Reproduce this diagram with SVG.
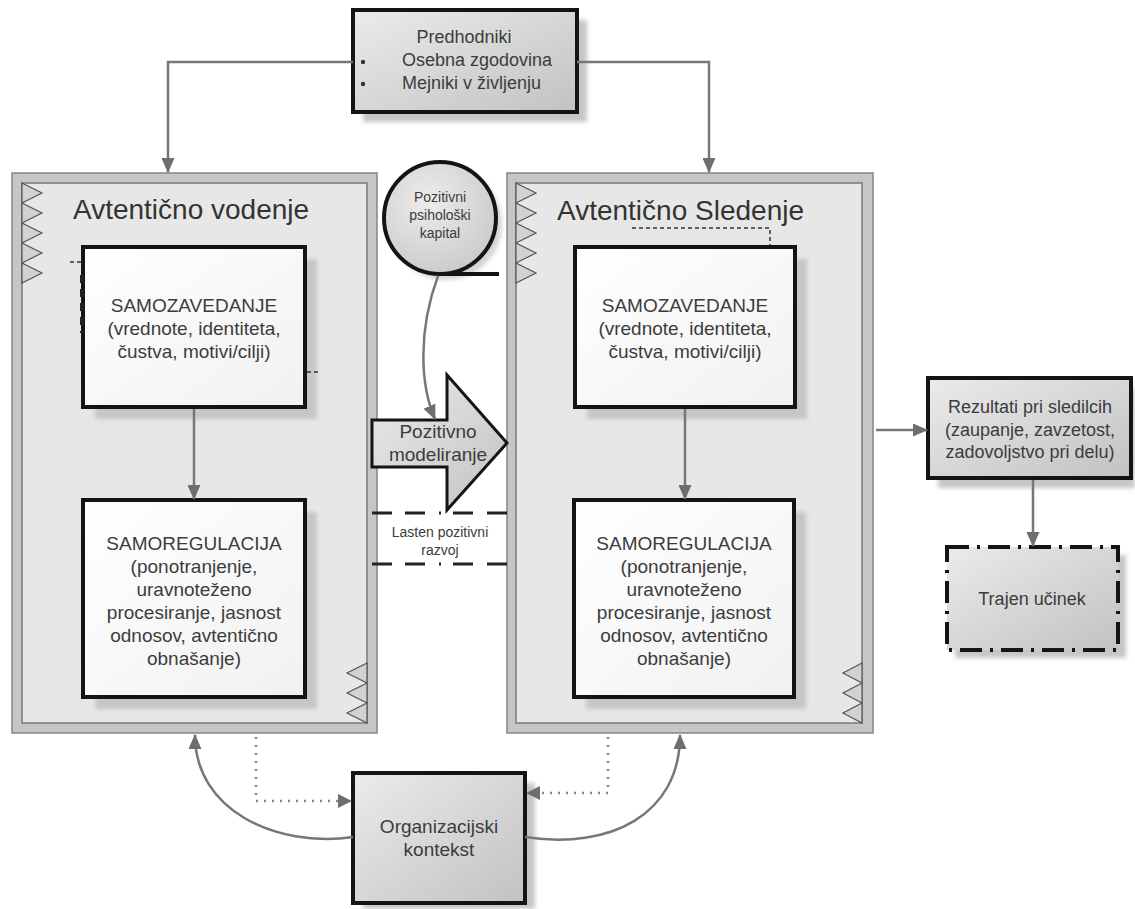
<svg xmlns="http://www.w3.org/2000/svg" width="1135" height="909" viewBox="0 0 1135 909">
  <defs>
    <linearGradient id="gGray" x1="0" y1="0" x2="1" y2="1">
      <stop offset="0" stop-color="#ebebeb"/>
      <stop offset="1" stop-color="#c2c2c2"/>
    </linearGradient>
    <linearGradient id="gWhite" x1="0" y1="0" x2="1" y2="1">
      <stop offset="0" stop-color="#ffffff"/>
      <stop offset="1" stop-color="#f1f1f1"/>
    </linearGradient>
    <radialGradient id="gCircle" cx="0.4" cy="0.35" r="0.7">
      <stop offset="0" stop-color="#ececec"/>
      <stop offset="1" stop-color="#cacaca"/>
    </radialGradient>
    <filter id="soft" x="-10%" y="-10%" width="130%" height="130%">
      <feGaussianBlur stdDeviation="2"/>
    </filter>
    <marker id="ah" viewBox="0 0 15 13" refX="14" refY="6.5" markerWidth="15" markerHeight="13" markerUnits="userSpaceOnUse" orient="auto">
      <path d="M0,0 L15,6.5 L0,13 z" fill="#6e6e6e"/>
    </marker>
  </defs>
  <style>
    text { font-family: "Liberation Sans", Arial, sans-serif; fill: #3c3c3c; }
    .c { text-anchor: middle; }
    .t19 { font-size: 19px; }
    .t18 { font-size: 18px; }
    .t14 { font-size: 14px; }
    .t13 { font-size: 14px; }
    .title { font-size: 28px; fill: #333; }
    .outer { fill: #c6c6c6; stroke: #858585; stroke-width: 1.5; }
    .inner { fill: #e7e7e7; stroke: #7a7a7a; stroke-width: 1.5; }
    .shadow { fill: #c6c6c6; filter: url(#soft); }
    .wbox { fill: url(#gWhite); stroke: #141414; stroke-width: 4; }
    .gbox { fill: url(#gGray); stroke: #141414; stroke-width: 4; }
    .zig { fill: #d2d2d2; stroke: #555; stroke-width: 1.2; }
    .conn { fill: none; stroke: #777; stroke-width: 2.5; }
    .dot { fill: none; stroke: #888; stroke-width: 2.5; stroke-dasharray: 2 6; }
    .dd { fill: none; stroke: #222; stroke-width: 3; stroke-dasharray: 20 13 20 14 2 12 20 14 20; }
    .art { fill: none; stroke: #333; stroke-width: 1.5; stroke-dasharray: 4 3; }
  </style>

  <!-- container: Avtentično vodenje -->
  <g id="leader">
    <rect class="outer" x="12" y="173" width="365" height="560"/>
    <rect class="inner" x="22" y="183" width="345" height="540"/>
    <polygon class="zig" points="22,183 42,193 22,203 42,213 22,223 42,233 22,243 42,253 22,263 42,273 22,283"/>
    <polygon class="zig" points="367,663 347,673 367,683 347,693 367,703 347,713 367,723"/>
    <text class="title" x="73" y="219">Avtentično vodenje</text>
  </g>

  <!-- container: Avtentično Sledenje -->
  <g id="follower">
    <rect class="outer" x="507" y="173" width="366" height="560"/>
    <rect class="inner" x="516" y="183" width="346" height="540"/>
    <polygon class="zig" points="516,183 536,193 516,203 536,213 516,223 536,233 516,243 536,253 516,263 536,273 516,283"/>
    <polygon class="zig" points="862,663 843,673 862,683 843,693 862,703 843,713 862,723"/>
    <text class="title" x="557" y="220">Avtentično Sledenje</text>
    <path class="art" d="M632,228 H770 V247"/>
  </g>

  <!-- leader: self-awareness -->
  <g id="leader-awareness">
    <rect class="shadow" x="95" y="259" width="222" height="160"/>
    <rect class="wbox" x="83" y="247" width="222" height="160"/>
    <path class="art" d="M70,262 H83"/>
    <path d="M82,275 V333" fill="none" stroke="#222" stroke-width="4" stroke-dasharray="8 6"/>
    <path class="art" d="M307,372 H321"/>
    <text class="c t19" x="194" y="312">SAMOZAVEDANJE</text>
    <text class="c t19" x="194" y="335">(vrednote, identiteta,</text>
    <text class="c t19" x="194" y="358">čustva, motivi/cilji)</text>
  </g>

  <!-- leader: self-regulation -->
  <g id="leader-regulation">
    <rect class="shadow" x="95" y="512" width="222" height="197"/>
    <rect class="wbox" x="83" y="500" width="222" height="197"/>
    <text class="c t19" x="194" y="550">SAMOREGULACIJA</text>
    <text class="c t19" x="194" y="573">(ponotranjenje,</text>
    <text class="c t19" x="194" y="596">uravnoteženo</text>
    <text class="c t19" x="194" y="619">procesiranje, jasnost</text>
    <text class="c t19" x="194" y="642">odnosov, avtentično</text>
    <text class="c t19" x="194" y="665">obnašanje)</text>
  </g>

  <!-- follower: self-awareness -->
  <g id="follower-awareness">
    <rect class="shadow" x="587" y="259" width="220" height="160"/>
    <rect class="wbox" x="575" y="247" width="220" height="160"/>
    <text class="c t19" x="685" y="312">SAMOZAVEDANJE</text>
    <text class="c t19" x="685" y="335">(vrednote, identiteta,</text>
    <text class="c t19" x="685" y="358">čustva, motivi/cilji)</text>
  </g>

  <!-- follower: self-regulation -->
  <g id="follower-regulation">
    <rect class="shadow" x="586" y="512" width="220" height="197"/>
    <rect class="wbox" x="574" y="500" width="220" height="197"/>
    <text class="c t19" x="684" y="550">SAMOREGULACIJA</text>
    <text class="c t19" x="684" y="573">(ponotranjenje,</text>
    <text class="c t19" x="684" y="596">uravnoteženo</text>
    <text class="c t19" x="684" y="619">procesiranje, jasnost</text>
    <text class="c t19" x="684" y="642">odnosov, avtentično</text>
    <text class="c t19" x="684" y="665">obnašanje)</text>
  </g>

  <!-- antecedents -->
  <g id="antecedents">
    <rect class="shadow" x="363" y="20" width="224" height="102"/>
    <rect class="gbox" x="353" y="10" width="224" height="102"/>
    <text class="c t18" x="464" y="43">Predhodniki</text>
    <circle cx="363" cy="62" r="2.2" fill="#333"/>
    <circle cx="363" cy="84" r="2.2" fill="#333"/>
    <text class="t18" x="402" y="66">Osebna zgodovina</text>
    <text class="t18" x="402" y="89">Mejniki v življenju</text>
  </g>

  <!-- positive psychological capital -->
  <g id="psycap">
    <circle cx="446" cy="224" r="56" fill="#d4d4d4" filter="url(#soft)"/>
    <circle cx="440" cy="218" r="56" fill="url(#gCircle)" stroke="#141414" stroke-width="4"/>
    <path d="M440,274 H499" stroke="#141414" stroke-width="4"/>
    <text class="c t13" x="440" y="202">Pozitivni</text>
    <text class="c t13" x="440" y="220">psihološki</text>
    <text class="c t13" x="440" y="238">kapital</text>
  </g>

  <!-- positive modelling arrow -->
  <g id="modelling">
    <polygon points="372,420 447,420 447,375 507,443 447,510 447,467 372,467" fill="url(#gGray)" stroke="#141414" stroke-width="3" stroke-linejoin="miter"/>
    <text class="c t19" x="438" y="438">Pozitivno</text>
    <text class="c t19" x="438" y="461">modeliranje</text>
  </g>

  <!-- own positive development band -->
  <g id="development">
    <path class="dd" d="M372,513 H507"/>
    <path class="dd" d="M372,564 H507"/>
    <text class="c t14" x="440" y="537">Lasten pozitivni</text>
    <text class="c t14" x="440" y="555">razvoj</text>
  </g>

  <!-- follower outcomes -->
  <g id="outcomes">
    <rect class="shadow" x="938" y="388" width="197" height="100"/>
    <rect class="gbox" x="928" y="378" width="203" height="100"/>
    <text class="c t18" x="1030" y="413">Rezultati pri sledilcih</text>
    <text class="c t18" x="1030" y="436">(zaupanje, zavzetost,</text>
    <text class="c t18" x="1030" y="458">zadovoljstvo pri delu)</text>
  </g>

  <!-- sustained performance -->
  <g id="performance">
    <rect class="shadow" x="955" y="555" width="171" height="103"/>
    <rect x="947" y="547" width="171" height="103" fill="url(#gGray)" stroke="#141414" stroke-width="4" stroke-dasharray="22 8 3 8"/>
    <text class="c t18" x="1032" y="605">Trajen učinek</text>
  </g>

  <!-- organizational context -->
  <g id="context">
    <rect class="shadow" x="363" y="783" width="172" height="126"/>
    <rect class="gbox" x="353" y="773" width="172" height="130"/>
    <text class="c t19" x="439" y="833">Organizacijski</text>
    <text class="c t19" x="439" y="856">kontekst</text>
  </g>

  <!-- connectors -->
  <g id="connectors">
    <path class="conn" d="M353,62 H168 V172" marker-end="url(#ah)"/>
    <path class="conn" d="M577,62 H709 V172" marker-end="url(#ah)"/>
    <path class="conn" d="M194,409 V499" marker-end="url(#ah)"/>
    <path class="conn" d="M685,409 V499" marker-end="url(#ah)"/>
    <path class="conn" d="M438,276 C418,330 420,385 435,419" marker-end="url(#ah)"/>
    <path class="conn" d="M876,430 H927" marker-end="url(#ah)"/>
    <path class="conn" d="M1033,480 V546" marker-end="url(#ah)"/>
    <path class="dot" d="M256,737 V801 H340"/>
    <path d="M338,794 L352,801 L338,808 z" fill="#6e6e6e"/>
    <path class="dot" d="M608,737 V793 H538"/>
    <path d="M540,786 L526,793 L540,800 z" fill="#6e6e6e"/>
    <path class="conn" d="M353,837 C275,848 195,810 195,735" marker-end="url(#ah)"/>
    <path class="conn" d="M525,837 C610,850 680,815 680,735" marker-end="url(#ah)"/>
  </g>
</svg>
